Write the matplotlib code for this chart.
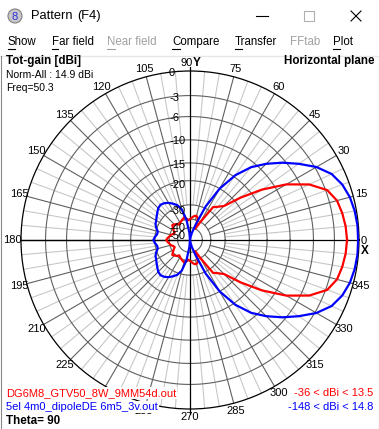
import numpy as np
import matplotlib
matplotlib.use("Agg")
import matplotlib.pyplot as plt
from matplotlib.patches import Circle, Rectangle

# =====================
# Data (gain relative to Norm-All 14.9 dBi, upper half 0..180 deg, pattern is symmetric)
# =====================
angles_half = np.arange(0, 181, 5)
blue_half = [-0.1, -0.1, -0.2, -0.4, -0.8, -1.5, -2.8, -4.6, -6.5, -8.6,
             -11.0, -14.5, -20.0, -29.0, -45.0, -60.0, -80.0, -110.0, -163.0,
             -60.0, -40.0, -32.0, -29.0, -27.5, -26.2, -25.3, -24.9, -25.3,
             -26.3, -27.2, -28.0, -28.5, -29.5, -31.0, -31.0, -30.0, -29.2]
red_half = [-1.4, -1.5, -1.7, -2.0, -2.8, -4.8, -8.0, -12.5, -18.0, -24.0,
            -26.0, -27.5, -40.0, -50.0, -38.0, -36.5, -37.0, -38.5, -40.0,
            -41.0, -39.0, -38.0, -39.0, -40.0, -41.0, -42.0, -40.0, -39.0,
            -38.0, -40.0, -42.0, -44.0, -43.0, -41.0, -40.0, -38.5, -37.5]

ring_levels = [0, -3, -6, -10, -15, -20, -30, -40, -50]
ring_label_y = [73, 98, 118, 141, 165, 185, 211, 228, 236]   # pixel rows of the labels
angle_ticks = np.arange(0, 360, 15)

menu_items = ["Show", "Far field", "Near field", "Compare", "Transfer", "FFtab", "Plot"]
menu_x = [8, 52, 107, 172, 235, 290, 333]
menu_enabled = [True, True, False, True, True, False, True]

file_red = "DG6M8_GTV50_8W_9MM54d.out"
file_blue = "5el 4m0_dipoleDE 6m5_3v.out"
range_red = "-36 < dBi < 13.5"
range_blue = "-148 < dBi < 14.8"


def mirror(vals):
    vals = list(vals)
    return vals + vals[::-1][1:]


angles_full = np.concatenate([angles_half, 360 - angles_half[::-1][1:]])
theta = np.deg2rad(angles_full)

# log radial scale: r ~ 10**(dB/44)
def fwd(d):
    return 10.0 ** (np.asarray(d, dtype=float) / 44.0)


def inv(r):
    r = np.asarray(r, dtype=float)
    with np.errstate(divide="ignore", invalid="ignore"):
        return 44.0 * np.log10(np.maximum(r, 1e-300))


plt.rcParams.update({
    "font.family": ["Liberation Sans", "DejaVu Sans"],
    "font.size": 7.5,
})

W, H = 379, 429
fig = plt.figure(figsize=(W / 100, H / 100), dpi=100)
fig.patch.set_facecolor("white")

# background / chrome axes in pixel coordinates
bg = fig.add_axes([0, 0, 1, 1], zorder=0)
bg.set_xlim(0, W)
bg.set_ylim(H, 0)
bg.axis("off")

# title bar
bg.add_patch(Circle((15, 16), 7, facecolor="#c8c8c8", edgecolor="#808080", lw=0.8))
bg.text(15, 16.5, "8", color="#3030e0", fontsize=8, ha="center", va="center")
bg.text(31, 16, "Pattern", fontsize=9.3, va="center")
bg.text(77, 16, "(F4)", fontsize=9.3, va="center")
bg.plot([256, 268], [16, 16], color="black", lw=0.8)
bg.add_patch(Rectangle((304, 11), 10, 10, facecolor="none", edgecolor="#b0b0b0", lw=0.8))
bg.plot([351, 361], [11, 21], color="black", lw=0.8)
bg.plot([351, 361], [21, 11], color="black", lw=0.8)

# menu bar
underline_w = [7, 6, 8, 8, 7, 0, 7]
for name, x, en, uw in zip(menu_items, menu_x, menu_enabled, underline_w):
    col = "black" if en else "#a0a0a0"
    bg.text(x, 42, name, fontsize=8.3, color=col, va="center")
    if uw:
        bg.plot([x, x + uw], [48.5, 48.5], color=col, lw=0.8)
bg.plot([0, W], [55.5, 55.5], color="#e6e6e6", lw=1)

# =====================
# Polar chart
# =====================
cx, cy, R = 190, 240, 169
ax = fig.add_axes([(cx - R) / W, (H - cy - R) / H, 2 * R / W, 2 * R / H],
                  projection="polar", zorder=1)
ax.set_rscale("function", functions=(fwd, inv))
ax.set_rlim(-250, 0)
ax.set_xticks([])
ax.set_yticks([])
ax.grid(False)
ax.spines["polar"].set_color("black")
ax.spines["polar"].set_linewidth(0.9)

full_t = np.linspace(0, 2 * np.pi, 361)
# light radial lines every 5 deg
for a in range(0, 360, 5):
    if a % 15 == 0:
        continue
    ax.plot([np.deg2rad(a)] * 2, [-30, 0], color="#c8c8c8", lw=0.8, zorder=1)
# dark radial lines every 15 deg
for a in angle_ticks:
    if a % 90 == 0:
        continue
    ax.plot([np.deg2rad(a)] * 2, [-40, 0], color="#606060", lw=0.8, zorder=2)
# rings
for lv in ring_levels[1:]:
    ax.plot(full_t, np.full_like(full_t, lv), color="#606060", lw=0.8, zorder=2)
# main axes
ax.plot([0, np.pi], [0, 0], color="black", lw=0.9, zorder=3)
ax.plot([np.pi, np.pi], [-250, 0], color="black", lw=0.9, zorder=3)
ax.plot([np.pi / 2] * 2, [-250, 0.45], color="black", lw=0.9, zorder=3, clip_on=False)
ax.plot([3 * np.pi / 2] * 2, [-250, 0.6], color="black", lw=0.9, zorder=3, clip_on=False)

# patterns
ax.plot(theta, mirror(red_half), color="#ff0000", lw=1.6, zorder=4)
ax.plot(theta, mirror(blue_half), color="#0000ff", lw=1.6, zorder=5)


def px(x, y):
    """pixel position -> polar axes fraction"""
    return (x - (cx - R)) / (2 * R), ((cy + R) - y) / (2 * R)


# ring labels along the vertical axis
for lv, ly in zip(ring_levels, ring_label_y):
    fx, fy = px(169, ly)
    ax.text(fx, fy, str(lv), transform=ax.transAxes,
            ha="left", va="center", fontsize=8, zorder=6)

# angle labels
for a in angle_ticks:
    t = np.deg2rad(a)
    if a == 0:
        fx, fy = px(364, 241)
        ax.text(fx, fy, "0", transform=ax.transAxes, ha="center", va="center", fontsize=8)
        fx, fy = px(365, 251)
        ax.text(fx, fy, "X", transform=ax.transAxes, ha="center", va="center",
                fontsize=8.5, fontweight="bold")
        continue
    if a == 90:
        fx, fy = px(193, 62.5)
        ax.text(fx, fy, "90", transform=ax.transAxes, ha="right", va="center", fontsize=8)
        ax.text(fx, fy, "Y", transform=ax.transAxes, ha="left", va="center",
                fontsize=8.5, fontweight="bold")
        continue
    if a == 240:   # hidden behind the file name in the original
        continue
    rr = 0.5 * 1.048
    ax.text(0.5 + rr * np.cos(t), 0.5 + rr * np.sin(t), str(a), transform=ax.transAxes,
            ha="center", va="center", fontsize=8)

# =====================
# Overlay text
# =====================
top = fig.add_axes([0, 0, 1, 1], zorder=10)
top.set_xlim(0, W)
top.set_ylim(H, 0)
top.axis("off")
top.patch.set_alpha(0)

top.text(6, 61, "Tot-gain [dBi]", fontsize=8.4, fontweight="bold", va="center")
top.text(6, 75, "Norm-All : 14.9 dBi", fontsize=7.5, va="center")
top.text(6, 88, "Freq=50.3", fontsize=7.5, va="center")
top.text(375, 61, "Horizontal plane", fontsize=8.4, fontweight="bold", va="center", ha="right")

box = dict(facecolor="white", edgecolor="none", pad=0.6)
top.text(6, 393, file_red, color="#ff0000", fontsize=8.0, va="center", bbox=box)
top.text(6, 407, file_blue, color="#0000ff", fontsize=8.0, va="center", bbox=box)
top.text(373, 393, range_red, color="#ff0000", fontsize=8.0, va="center", ha="right", bbox=box)
top.text(373, 407, range_blue, color="#0000ff", fontsize=8.0, va="center", ha="right", bbox=box)
top.text(6, 421, "Theta= 90", fontsize=8.4, fontweight="bold", va="center")

# window border
top.plot([0.5, 0.5], [56, H], color="#888888", lw=0.8)
top.plot([W - 0.5, W - 0.5], [56, H], color="#888888", lw=0.8)

fig.savefig("out.png", dpi=100, facecolor="white")
